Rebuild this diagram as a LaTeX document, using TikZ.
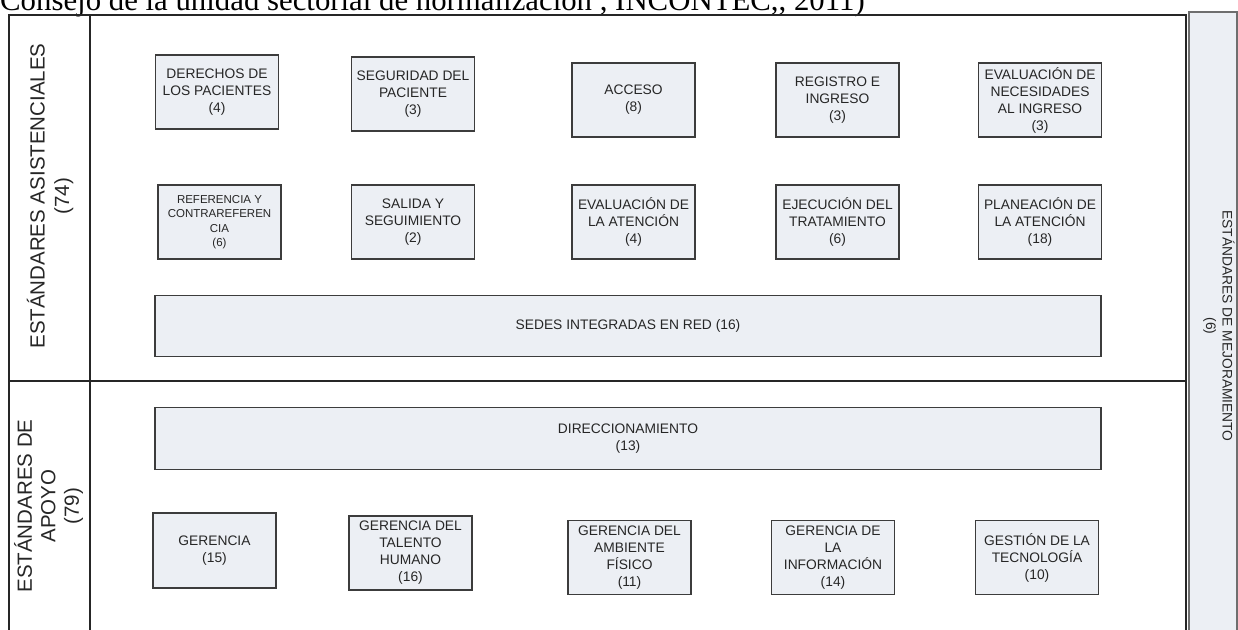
\documentclass[tikz,border=0pt]{standalone}
\usepackage{fontspec}
\setmainfont{Liberation Sans}
\newfontfamily\serifhead{Liberation Serif}
\definecolor{boxfill}{HTML}{ECEFF4}
\definecolor{boxline}{HTML}{3C3C3C}
\definecolor{frameline}{HTML}{262626}
\definecolor{panelline}{HTML}{6E6E6E}
\definecolor{txt}{HTML}{262626}
\begin{document}
\begin{tikzpicture}[x=1pt,y=-1pt,
  box/.style={draw=boxline, fill=boxfill, line width=1.4pt, text=txt, align=center,
    font=\fontsize{13.8}{17}\selectfont, inner sep=0pt, minimum width=123pt, minimum height=74pt},
  widebox/.style={box, minimum width=946pt, minimum height=61pt},
  smalltxt/.style={font=\fontsize{11.5}{14.5}\selectfont},
  frame/.style={draw=frameline, line width=1.4pt},
  lab/.style={text=txt, align=center, font=\fontsize{20.5}{24.5}\selectfont, inner sep=0pt}]
\useasboundingbox (0,0) rectangle (1238,629);
\begin{scope}
\clip (0,0) rectangle (1238,629);
% header text (cut off at the top, as in the reference)
\node[anchor=base west, inner sep=0pt, font=\serifhead\fontsize{30.8}{36}\selectfont] (title) at (0,10.5)
  {Consejo de la unidad sectorial de normalización , INCONTEC,, 2011)};
% right panel
\draw[draw=panelline, fill=boxfill, line width=1.2pt] (1189,12) rectangle (1237,640);
\node[rotate=-90, text=txt, align=center, inner sep=0pt, font=\fontsize{13.8}{16.5}\selectfont] (mejora) at (1219,326)
  {ESTÁNDARES DE MEJORAMIENTO\\(6)};
% main frame
\coordinate (tl) at (9,15);
\coordinate (tr) at (1186,15);
\draw[frame] (9,640) -- (tl) -- (tr) -- (1186,640);
\draw[frame] (90,15) -- (90,640);
\draw[frame] (9,381) -- (1186,381);
% left labels
\node[lab, rotate=90] (asis) at (50,196) {ESTÁNDARES ASISTENCIALES\\(74)};
\node[lab, rotate=90, font=\fontsize{20.5}{23.5}\selectfont] (apoyo) at (48.5,506) {ESTÁNDARES DE\\APOYO\\(79)};
% row 1
\node[box] (derechos) at (217,92) {DERECHOS DE\\LOS PACIENTES\\(4)};
\node[box] (seguridad) at (413,94) {SEGURIDAD DEL\\PACIENTE\\(3)};
\node[box] (acceso) at (633.5,100) {ACCESO\\(8)};
\node[box] (registro) at (837.5,100) {REGISTRO E\\INGRESO\\(3)};
\node[box] (evalnec) at (1040,100) {EVALUACIÓN DE\\NECESIDADES\\AL INGRESO\\(3)};
% row 2
\node[box, smalltxt] (referencia) at (219.5,222) {REFERENCIA Y\\CONTRAREFEREN\\CIA\\(6)};
\node[box] (salida) at (413,222) {SALIDA Y\\SEGUIMIENTO\\(2)};
\node[box] (evalaten) at (633.5,222) {EVALUACIÓN DE\\LA ATENCIÓN\\(4)};
\node[box] (ejecucion) at (837.5,222) {EJECUCIÓN DEL\\TRATAMIENTO\\(6)};
\node[box] (planeacion) at (1040,222) {PLANEACIÓN DE\\LA ATENCIÓN\\(18)};
% wide boxes
\node[widebox] (sedes) at (628,326) {SEDES INTEGRADAS EN RED (16)};
\node[widebox, minimum height=62pt] (direcc) at (628,438.5) {DIRECCIONAMIENTO\\(13)};
% lower row
\node[box, minimum height=75pt] (gerencia) at (214.5,550.5) {GERENCIA\\(15)};
\node[box] (talento) at (410.5,553) {GERENCIA DEL\\TALENTO\\HUMANO\\(16)};
\node[box] (ambiente) at (629.5,557.5) {GERENCIA DEL\\AMBIENTE\\FÍSICO\\(11)};
\node[box] (informacion) at (833,557.5) {GERENCIA DE\\LA\\INFORMACIÓN\\(14)};
\node[box] (tecnologia) at (1037,557.5) {GESTIÓN DE LA\\TECNOLOGÍA\\(10)};
\end{scope}
\end{tikzpicture}
\end{document}
